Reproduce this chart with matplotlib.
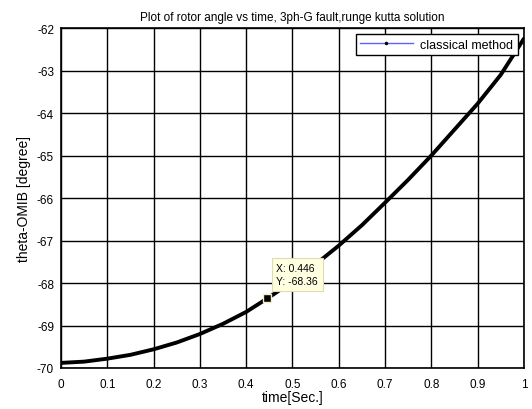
import matplotlib.pyplot as plt
from matplotlib.lines import Line2D

plt.rcParams["font.family"] = ["Liberation Sans", "DejaVu Sans"]
plt.rcParams["axes.unicode_minus"] = False

# rotor angle
time_s = [0.0, 0.05, 0.1, 0.15, 0.2, 0.25, 0.3, 0.35, 0.4, 0.446, 0.5,
          0.55, 0.6, 0.65, 0.7, 0.75, 0.8, 0.85, 0.9, 0.95, 1.0]
theta = [-69.88, -69.85, -69.78, -69.69, -69.56, -69.40, -69.20, -68.96,
         -68.68, -68.36, -67.97, -67.56, -67.12, -66.64, -66.11, -65.57,
         -65.00, -64.39, -63.78, -63.10, -62.25]
tip_x = 0.446
tip_y = -68.36

fig = plt.figure(figsize=(5.32, 4.10), dpi=100)
ax = fig.add_axes([0.1147, 0.10, 0.870, 0.829])

ax.plot(time_s, theta, color="black", lw=2.8, solid_capstyle="round", solid_joinstyle="round")

ax.set_xlim(0, 1)
ax.set_ylim(-70, -62)
ax.set_xticks([0, 0.1, 0.2, 0.3, 0.4, 0.5, 0.6, 0.7, 0.8, 0.9, 1])
ax.set_xticklabels(["0", "0.1", "0.2", "0.3", "0.4", "0.5", "0.6", "0.7", "0.8", "0.9", "1"])
ax.set_yticks(range(-70, -61))
ax.grid(True, color="black", lw=1.0, ls="-")
ax.tick_params(labelsize=8.5, direction="in", length=0)
ax.tick_params(axis="x", pad=7)
ax.tick_params(axis="y", pad=5)
for s in ax.spines.values():
    s.set_linewidth(1.2)

ax.set_title("Plot of rotor angle vs time, 3ph-G fault,runge kutta solution", fontsize=8.5, pad=6)
ax.set_xlabel("time[Sec.]", fontsize=10, labelpad=0)
ax.set_ylabel("theta-OMIB [degree]", fontsize=10, labelpad=4)

# data tip
ax.plot([tip_x], [tip_y], marker="s", ms=6, color="black", mec="#f4f0c0", mew=1, zorder=5)
ax.annotate(f"X: {tip_x}\nY: {tip_y}", xy=(tip_x, tip_y), xytext=(9, 12),
            textcoords="offset pixels", fontsize=7.5, ha="left", va="bottom",
            linespacing=1.4,
            bbox=dict(boxstyle="square,pad=0.45", fc="#ffffe1", ec="#e0dcb0", lw=0.8),
            zorder=6)

handle = Line2D([], [], color="#6060ff", lw=1, marker=".", ms=3, mfc="black", mec="black")
leg = ax.legend([handle], ["classical method"], loc="upper right", fontsize=9,
                fancybox=False, framealpha=1, edgecolor="black",
                borderaxespad=0.5, handlelength=4.2, borderpad=0.35, handletextpad=0.6)
leg.get_frame().set_linewidth(1.0)

fig.savefig("out.png", dpi=100)
